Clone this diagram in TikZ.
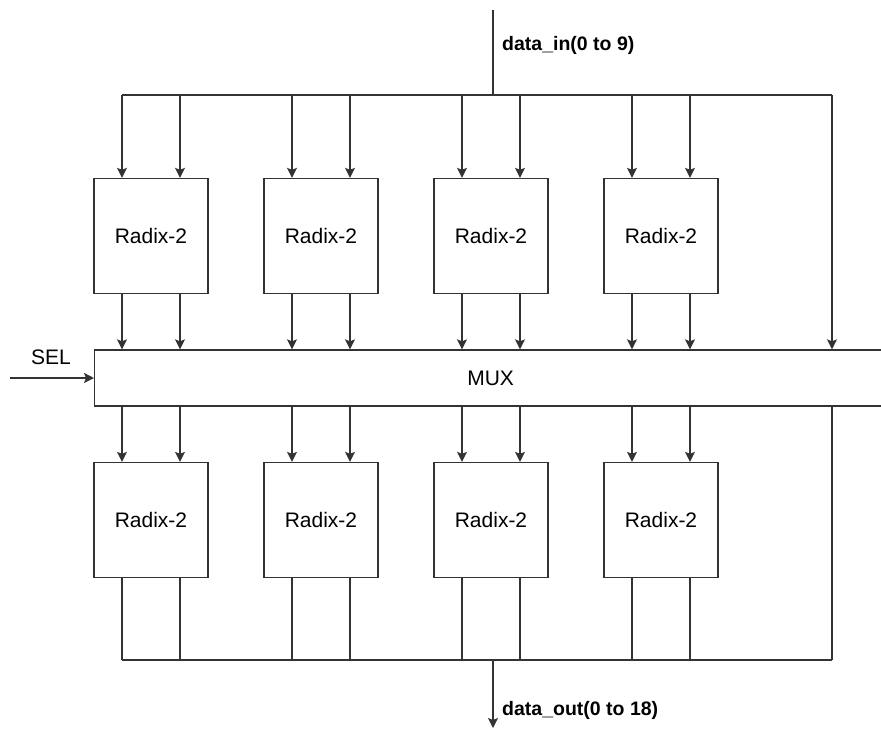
\documentclass[tikz,border=0pt]{standalone}
\usepackage{fontspec}
\setsansfont{Liberation Sans}
\usepackage{tikz}
\usetikzlibrary{arrows.meta, positioning, calc}
\definecolor{wire}{HTML}{333333}

\begin{document}
\begin{tikzpicture}[
  x=1pt, y=-1pt,
  font=\sffamily\fontsize{21}{25}\selectfont,
  radix/.style={rectangle, draw=wire, line width=1.3pt, fill=white,
                minimum width=114pt, minimum height=115pt, inner sep=0pt},
  muxbox/.style={rectangle, draw=wire, line width=1.3pt,
                 minimum width=792pt, minimum height=56pt, inner sep=0pt},
  lbl/.style={font=\sffamily\fontsize{19.5}{23}\selectfont\bfseries, anchor=west, inner sep=0pt},
  wr/.style={wire, line width=1.3pt},
  arr/.style={wr, -{Stealth[length=10pt, width=10pt, inset=2pt]}}
]
  \useasboundingbox (0,0) rectangle (881,729);

  % radix-2 butterflies
  \foreach \i/\x in {1/151, 2/321, 3/491, 4/661} {
    \node[radix] (rt\i) at (\x,236) {Radix-2};
    \node[radix] (rb\i) at (\x,520) {Radix-2};
  }
  \node[muxbox, anchor=west] (mux) at (94,378) {MUX};

  % buses
  \coordinate (inl)  at (122,95);
  \coordinate (inr)  at (832,95);
  \coordinate (outl) at (122,660);
  \coordinate (outr) at (832,660);
  \coordinate (din)  at (493,10);
  \coordinate (dout) at (493,728);
  \coordinate (sel)  at (10,378);

  \draw[wr] (inl) -- (inr);
  \draw[wr] (outl) -- (outr);
  \draw[wr] (din) -- (din |- inl);
  \draw[arr] (dout |- outl) -- (dout);
  \draw[arr] (inr) -- (inr |- mux.north);
  \draw[wr] (outr |- mux.south) -- (outr);
  \draw[arr] (sel) -- (mux.west);

  \foreach \i in {1,...,4} {
    \foreach \d in {-29,29} {
      \coordinate (pt) at ($(rt\i.north)+(\d,0)$);
      \coordinate (pb) at ($(rb\i.north)+(\d,0)$);
      \draw[arr] (pt |- inl) -- (pt |- rt\i.north);
      \draw[arr] (pt |- rt\i.south) -- (pt |- mux.north);
      \draw[arr] (pb |- mux.south) -- (pb |- rb\i.north);
      \draw[wr] (pb |- rb\i.south) -- (pb |- outl);
    }
  }

  % labels
  \node[lbl] (inlbl) at (502,45) {data\_in(0 to 9)};
  \node[lbl] (outlbl) at (502,710) {data\_out(0 to 18)};
  \node (sellbl) at (51,357) {SEL};
\end{tikzpicture}
\end{document}
